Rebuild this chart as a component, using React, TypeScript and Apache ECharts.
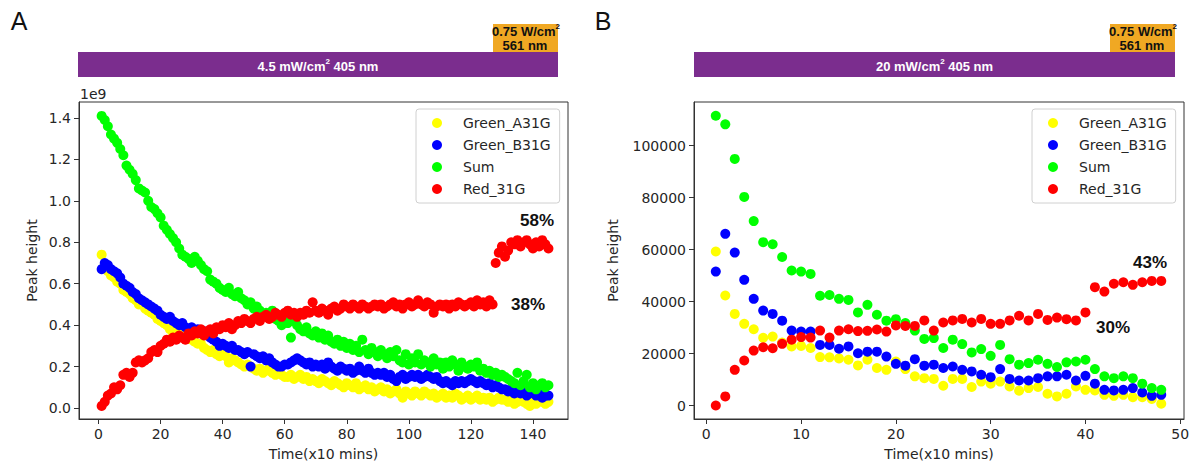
import React, { useEffect, useRef } from "react";
import * as echarts from "echarts";

// ---------- Panel A data (units of 1e9) ----------
const timeA = Array.from({ length: 145 }, (_, i) => i + 1);

const greenA_A = [
  0.74, 0.69, 0.66, 0.64, 0.63, 0.61, 0.60, 0.57, 0.56, 0.55,
  0.53, 0.52, 0.50, 0.50, 0.48, 0.47, 0.46, 0.45, 0.43, 0.42,
  0.41, 0.40, 0.38, 0.36, 0.37, 0.36, 0.35, 0.34, 0.34, 0.33,
  0.32, 0.31, 0.31, 0.29, 0.28, 0.27, 0.28, 0.26, 0.25, 0.26,
  0.25, 0.22, 0.24, 0.23, 0.22, 0.21, 0.20, 0.21, 0.20, 0.19,
  0.18, 0.19, 0.17, 0.18, 0.19, 0.17, 0.16, 0.17, 0.16, 0.15,
  0.15, 0.16, 0.14, 0.15, 0.16, 0.14, 0.15, 0.13, 0.14, 0.13,
  0.12, 0.14, 0.13, 0.12, 0.11, 0.13, 0.12, 0.11, 0.10, 0.12,
  0.11, 0.10, 0.12, 0.09, 0.10, 0.11, 0.09, 0.10, 0.08, 0.09,
  0.10, 0.08, 0.09, 0.07, 0.08, 0.09, 0.07, 0.05, 0.08, 0.07,
  0.06, 0.08, 0.07, 0.06, 0.08, 0.07, 0.06, 0.07, 0.05, 0.06,
  0.07, 0.05, 0.06, 0.05, 0.07, 0.06, 0.04, 0.05, 0.06, 0.04,
  0.05, 0.06, 0.04, 0.05, 0.04, 0.05, 0.03, 0.04, 0.05, 0.04,
  0.04, 0.03, 0.04, 0.02, 0.03, 0.04, 0.03, 0.02, 0.01, 0.03,
  0.02, 0.04, 0.03, 0.02, 0.03,
];

const greenB_A = [
  0.67, 0.70, 0.69, 0.67, 0.66, 0.65, 0.63, 0.60, 0.59, 0.58,
  0.56, 0.55, 0.53, 0.52, 0.51, 0.50, 0.49, 0.48, 0.47, 0.45,
  0.44, 0.43, 0.44, 0.42, 0.41, 0.40, 0.41, 0.39, 0.38, 0.39,
  0.37, 0.38, 0.36, 0.37, 0.35, 0.34, 0.33, 0.32, 0.30, 0.31,
  0.30, 0.29, 0.30, 0.28, 0.28, 0.27, 0.26, 0.27, 0.20, 0.26,
  0.25, 0.24, 0.25, 0.23, 0.24, 0.22, 0.21, 0.20, 0.20, 0.21,
  0.21, 0.22, 0.23, 0.24, 0.23, 0.22, 0.21, 0.22, 0.20, 0.21,
  0.20, 0.21, 0.19, 0.22, 0.20, 0.19, 0.18, 0.20, 0.19, 0.18,
  0.19, 0.17, 0.18, 0.20, 0.18, 0.17, 0.19, 0.17, 0.16, 0.17,
  0.16, 0.17, 0.15, 0.16, 0.14, 0.13, 0.15, 0.16, 0.14, 0.15,
  0.16, 0.15, 0.16, 0.14, 0.15, 0.16, 0.15, 0.14, 0.15, 0.13,
  0.12, 0.13, 0.12, 0.11, 0.13, 0.12, 0.13, 0.12, 0.13, 0.14,
  0.13, 0.12, 0.13, 0.12, 0.11, 0.12, 0.10, 0.11, 0.10, 0.09,
  0.09, 0.08, 0.09, 0.07, 0.08, 0.07, 0.08, 0.06, 0.07, 0.08,
  0.06, 0.07, 0.05, 0.06, 0.06,
];

const sum_A = [
  1.41, 1.39, 1.36, 1.32, 1.30, 1.28, 1.25, 1.22, 1.17, 1.15,
  1.13, 1.10, 1.06, 1.05, 1.04, 1.00, 0.97, 0.96, 0.94, 0.92,
  0.88, 0.86, 0.84, 0.82, 0.80, 0.77, 0.74, 0.73, 0.72, 0.70,
  0.73, 0.71, 0.69, 0.67, 0.66, 0.62, 0.61, 0.60, 0.58, 0.57,
  0.56, 0.58, 0.55, 0.54, 0.56, 0.53, 0.52, 0.50, 0.51, 0.48,
  0.49, 0.47, 0.45, 0.46, 0.44, 0.47, 0.43, 0.42, 0.40, 0.44,
  0.41, 0.34, 0.42, 0.40, 0.38, 0.37, 0.39, 0.36, 0.35, 0.37,
  0.34, 0.36, 0.33, 0.35, 0.32, 0.31, 0.33, 0.30, 0.32, 0.29,
  0.31, 0.28, 0.30, 0.27, 0.33, 0.28, 0.26, 0.29, 0.27, 0.25,
  0.28, 0.26, 0.24, 0.27, 0.25, 0.28, 0.23, 0.22, 0.26, 0.21,
  0.24, 0.22, 0.26, 0.21, 0.23, 0.22, 0.20, 0.24, 0.21, 0.22,
  0.19, 0.22, 0.20, 0.23, 0.21, 0.18, 0.22, 0.20, 0.19, 0.21,
  0.20, 0.22, 0.18, 0.19, 0.17, 0.18, 0.16, 0.17, 0.15, 0.16,
  0.15, 0.14, 0.13, 0.12, 0.17, 0.11, 0.13, 0.16, 0.10, 0.12,
  0.09, 0.11, 0.12, 0.10, 0.11,
];

const red_A = [
  0.01, 0.03, 0.06, 0.07, 0.10, 0.09, 0.11, 0.16, 0.17, 0.15,
  0.17, 0.22, 0.23, 0.22, 0.23, 0.24, 0.27, 0.28, 0.27, 0.30,
  0.31, 0.33, 0.32, 0.34, 0.33, 0.35, 0.34, 0.33, 0.36, 0.35,
  0.37, 0.36, 0.38, 0.35, 0.37, 0.38, 0.36, 0.39, 0.38, 0.40,
  0.39, 0.41, 0.38, 0.40, 0.42, 0.41, 0.43, 0.42, 0.41, 0.43,
  0.44, 0.42, 0.44, 0.45, 0.43, 0.44, 0.46, 0.45, 0.44, 0.46,
  0.47, 0.45, 0.46, 0.44, 0.46, 0.45, 0.47, 0.46, 0.51, 0.47,
  0.46, 0.48, 0.47, 0.45, 0.48, 0.49, 0.47, 0.48, 0.50, 0.49,
  0.48, 0.50, 0.49, 0.48, 0.50, 0.49, 0.48, 0.49, 0.50, 0.49,
  0.50, 0.48, 0.49, 0.50, 0.51, 0.49, 0.50, 0.48, 0.50, 0.51,
  0.49, 0.50, 0.52, 0.50, 0.49, 0.51, 0.50, 0.46, 0.49, 0.50,
  0.49, 0.50, 0.48, 0.50, 0.49, 0.51, 0.50, 0.49, 0.50, 0.51,
  0.49, 0.52, 0.50, 0.51, 0.49, 0.52, 0.50, 0.70, 0.75, 0.78,
  0.73, 0.76, 0.80, 0.79, 0.81, 0.78, 0.80, 0.81, 0.79, 0.77,
  0.80, 0.78, 0.81, 0.79, 0.77,
];

// ---------- Panel B data ----------
const timeB = Array.from({ length: 48 }, (_, i) => i + 1);

const greenA_B = [
  59300, 42400, 35300, 31500, 29400, 26100, 26600, 24300, 22800, 23000,
  22200, 18700, 18600, 18200, 17700, 15500, 17700, 14500, 13800, 17000,
  14100, 11300, 10600, 10300, 7700, 10300, 10300, 7200, 9300, 8500,
  9300, 7400, 5800, 6800, 7200, 4600, 3600, 4600, 7400, 6100,
  5900, 4200, 3800, 4200, 3300, 3300, 2600, 800,
];

const greenB_B = [
  51600, 66100, 58900, 48400, 41100, 36600, 35300, 32700, 28900, 28500,
  28500, 23400, 23400, 21900, 22800, 20200, 20800, 20800, 18900, 16100,
  15400, 17900, 15400, 15800, 14500, 15100, 13800, 13200, 11900, 11000,
  14100, 10300, 9700, 9700, 10600, 11300, 11300, 11900, 9700, 11500,
  8500, 6100, 5900, 6100, 6800, 5100, 3800, 4200,
];

const sum_B = [
  111500, 108200, 94900, 80300, 71000, 62900, 62100, 57200, 52000, 51600,
  50700, 42300, 42600, 41100, 40700, 35900, 38800, 35000, 32700, 33300,
  31800, 28900, 25700, 26000, 22200, 25400, 23700, 20500, 21800, 19200,
  23400, 17900, 15800, 16400, 17700, 16100, 14900, 16700, 17000, 17700,
  14100, 11300, 10600, 11300, 10600, 8500, 6800, 6100,
];

const red_B = [
  100, 3600, 13800, 17400, 21200, 22500, 22100, 23800, 25400, 26400,
  26200, 28900, 26200, 28900, 29400, 28700, 28800, 29300, 28500, 30900,
  30700, 30700, 32800, 28900, 32000, 32800, 33400, 32000, 33400, 31500,
  31500, 32800, 34600, 32800, 35300, 33000, 33900, 33300, 32800, 35900,
  45600, 43900, 46900, 47500, 46500, 47500, 48000, 48000,
];

const seriesNames = ["Green_A31G", "Green_B31G", "Sum", "Red_31G"];
const seriesColors = ["#ffff00", "#0000ff", "#00ff00", "#ff0000"];

const ticksAX = [0, 20, 40, 60, 80, 100, 120, 140];
const ticksAY = [0, 0.2, 0.4, 0.6, 0.8, 1.0, 1.2, 1.4];
const ticksBX = [0, 10, 20, 30, 40, 50];
const ticksBY = [0, 20000, 40000, 60000, 80000, 100000];

const TICK_FONT = "DejaVu Sans";
const BOLD_FONT = "Liberation Sans";
const TXT = "#262626";

export default function App() {
  const ref = useRef<HTMLDivElement>(null);

  useEffect(() => {
    if (!ref.current) return;
    const chart = echarts.init(ref.current, undefined, { renderer: "svg" });

    const gA = { left: 79, top: 102, width: 489, height: 317 };
    const gB = { left: 694, top: 102, width: 490, height: 317 };

    const mkX = (gi: number, min: number, max: number, ticks: number[]) => ({
      type: "value",
      gridIndex: gi,
      min,
      max,
      name: "Time(x10 mins)",
      nameLocation: "middle",
      nameGap: 28,
      nameTextStyle: { fontFamily: TICK_FONT, fontSize: 14, color: TXT },
      splitLine: { show: false },
      axisLine: { onZero: false, lineStyle: { color: "#333", width: 1 } },
      axisTick: { show: true, length: 5, customValues: ticks, lineStyle: { color: "#333" } },
      axisLabel: {
        customValues: ticks,
        fontFamily: TICK_FONT,
        fontSize: 14,
        color: TXT,
        margin: 8,
      },
    });

    const mkY = (gi: number, min: number, max: number, ticks: number[], gap: number, fmt: (v: number) => string) => ({
      type: "value",
      gridIndex: gi,
      min,
      max,
      name: "Peak height",
      nameLocation: "middle",
      nameGap: gap,
      nameTextStyle: { fontFamily: TICK_FONT, fontSize: 14, color: TXT },
      splitLine: { show: false },
      axisLine: { onZero: false, lineStyle: { color: "#333", width: 1 } },
      axisTick: { show: true, length: 5, customValues: ticks, lineStyle: { color: "#333" } },
      axisLabel: {
        customValues: ticks,
        fontFamily: TICK_FONT,
        fontSize: 14,
        color: TXT,
        margin: 8,
        formatter: fmt,
      },
    });

    const dataA = [greenA_A, greenB_A, sum_A, red_A];
    const dataB = [greenA_B, greenB_B, sum_B, red_B];

    const series: any[] = [];
    seriesNames.forEach((name, k) => {
      series.push({
        type: "scatter",
        name,
        xAxisIndex: 0,
        yAxisIndex: 0,
        symbol: "circle",
        symbolSize: 10,
        itemStyle: { color: seriesColors[k], opacity: 1 },
        data: timeA.map((t, i) => [t, dataA[k][i]]),
      });
    });
    seriesNames.forEach((name, k) => {
      series.push({
        type: "scatter",
        name,
        xAxisIndex: 1,
        yAxisIndex: 1,
        symbol: "circle",
        symbolSize: 10,
        itemStyle: { color: seriesColors[k], opacity: 1 },
        data: timeB.map((t, i) => [t, dataB[k][i]]),
      });
    });

    const mkLegend = (left: number) => ({
      data: seriesNames.map((n) => ({ name: n, icon: "circle" })),
      orient: "vertical",
      left,
      top: 109,
      itemWidth: 10,
      itemHeight: 10,
      itemGap: 6,
      padding: [6, 9, 6, 16],
      backgroundColor: "rgba(255,255,255,0.85)",
      borderColor: "#d0d0d0",
      borderWidth: 1,
      borderRadius: 3,
      selectedMode: false,
      textStyle: {
        fontFamily: TICK_FONT,
        fontSize: 14,
        color: TXT,
        lineHeight: 16,
        padding: [0, 0, 0, 16],
      },
    });

    const frame = (g: any) => ({
      type: "rect",
      z: 10,
      shape: { x: g.left, y: g.top, width: g.width, height: g.height },
      style: { fill: "none", stroke: "#333", lineWidth: 1 },
      silent: true,
    });

    const header = (x0: number, x1: number, label: string) => [
      {
        type: "rect",
        shape: { x: x0, y: 52, width: x1 - x0, height: 25 },
        style: { fill: "#7b2d8e" },
      },
      {
        type: "rect",
        shape: { x: x1 - 65, y: 24, width: 65, height: 28 },
        style: { fill: "#f0a823" },
      },
      {
        type: "text",
        x: (x0 + x1) / 2,
        y: 65,
        style: {
          text: `{b|${label} mW/cm}{s|2}{b| 405 nm}`,
          align: "center",
          verticalAlign: "middle",
          rich: {
            b: { fontFamily: BOLD_FONT, fontWeight: "bold", fontSize: 13, fill: "#ffffff", lineHeight: 15, verticalAlign: "bottom" },
            s: { fontFamily: BOLD_FONT, fontWeight: "bold", fontSize: 8, fill: "#ffffff", lineHeight: 8, verticalAlign: "top" },
          },
        },
      },
      {
        type: "text",
        x: x1 + 2,
        y: 30,
        style: {
          text: `{b|0.75 W/cm}{s|2}`,
          align: "right",
          verticalAlign: "middle",
          rich: {
            b: { fontFamily: BOLD_FONT, fontWeight: "bold", fontSize: 13, fill: "#111", lineHeight: 15, verticalAlign: "bottom" },
            s: { fontFamily: BOLD_FONT, fontWeight: "bold", fontSize: 8, fill: "#111", lineHeight: 8, verticalAlign: "top" },
          },
        },
      },
      {
        type: "text",
        x: x1 - 33,
        y: 45,
        style: {
          text: "561 nm",
          align: "center",
          verticalAlign: "middle",
          fontFamily: BOLD_FONT,
          fontWeight: "bold",
          fontSize: 13,
          fill: "#111",
        },
      },
    ];

    const pct = (x: number, y: number, t: string) => ({
      type: "text",
      x,
      y,
      z: 20,
      style: {
        text: t,
        align: "center",
        verticalAlign: "middle",
        fontFamily: BOLD_FONT,
        fontWeight: "bold",
        fontSize: 17,
        fill: "#111",
      },
    });

    const panelLetter = (x: number, t: string) => ({
      type: "text",
      x,
      y: 21,
      style: {
        text: t,
        align: "center",
        verticalAlign: "middle",
        fontFamily: BOLD_FONT,
        fontSize: 25,
        fill: "#111",
      },
    });

    const option: any = {
      animation: false,
      backgroundColor: "#ffffff",
      grid: [gA, gB],
      xAxis: [mkX(0, -6.3, 151.3, ticksAX), mkX(1, -1.3, 50.4, ticksBX)],
      yAxis: [
        mkY(0, -0.053, 1.477, ticksAY, 40, (v: number) => v.toFixed(1)),
        mkY(1, -5100, 116800, ticksBY, 74, (v: number) => String(Math.round(v))),
      ],
      legend: [mkLegend(416), mkLegend(1032)],
      series,
      graphic: [
        frame(gA),
        frame(gB),
        ...header(78, 558, "4.5"),
        ...header(694, 1175, "20"),
        {
          type: "text",
          x: 80,
          y: 94,
          style: { text: "1e9", align: "left", verticalAlign: "middle", fontFamily: TICK_FONT, fontSize: 14, fill: TXT },
        },
        pct(537, 220, "58%"),
        pct(528, 304, "38%"),
        pct(1150, 262, "43%"),
        pct(1113, 327, "30%"),
        panelLetter(19, "A"),
        panelLetter(603, "B"),
      ],
    };

    chart.setOption(option);
    return () => chart.dispose();
  }, []);

  return (
    <div
      ref={ref}
      style={{ position: "absolute", left: 0, top: 0, width: 1193, height: 469 }}
    />
  );
}
